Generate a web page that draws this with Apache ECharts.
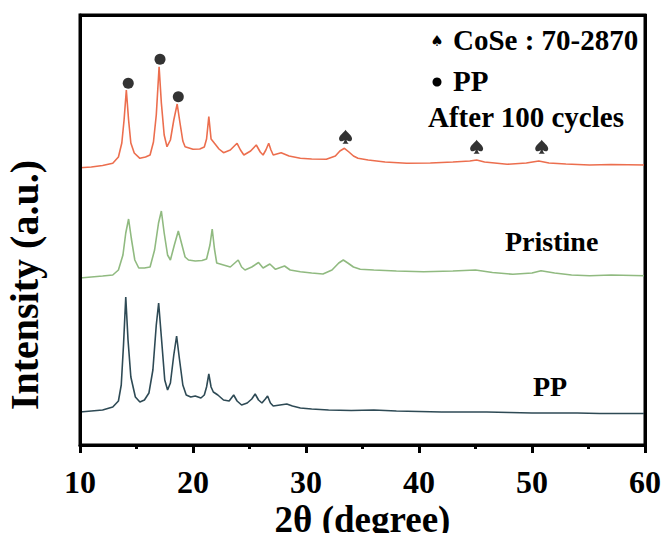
<!DOCTYPE html>
<html>
<head>
<meta charset="utf-8">
<script src="https://cdn.jsdelivr.net/npm/echarts@6/dist/echarts.min.js"></script>
<style>
html,body{margin:0;padding:0;background:#fff;}
#wrap{position:relative;width:665px;height:533px;}
#main{width:665px;height:533px;}
#frame{position:absolute;box-sizing:border-box;border:3px solid #000;pointer-events:none;}
</style>
</head>
<body>
<div id="wrap">
<div id="main"></div>
<div id="frame"></div>
</div>
<script>
// XRD 图谱：三条曲线上下错开，纵坐标为相对强度（含偏移）
var FONT = "'Times New Roman','Liberation Serif',serif";

var xTicks = [10, 20, 30, 40, 50, 60];

// After 100 cycles
var afterData = [
    [10,277.3],[11,278],[12,279.5],[12.9,281.7],[13.4,288],[13.7,302],[13.9,325],[14.1,355],[14.3,325],[14.5,302],[14.8,292],
    [15.3,286.7],[15.8,288],[16.2,290],[16.5,303],[16.75,330],[17.0,378.3],[17.2,342],[17.45,310],[17.7,298.3],
    [18.0,305],[18.3,325],[18.6,341],[18.85,322],[19.1,304],[19.3,298.3],[20.0,295.7],[20.6,296],[21.0,298],
    [21.2,306],[21.4,328.3],[21.6,306],[21.9,301.7],[22.3,296],[22.7,292.3],[23.3,295],[23.9,301.7],[24.2,295],
    [24.5,290],[25.1,294],[25.6,300],[25.95,293],[26.2,290],[26.45,295],[26.7,301.7],[26.9,295],[27.1,290],
    [27.8,292.3],[28.5,289],[29.5,286.7],[30.5,286],[31.8,285.7],[32.6,289],[33.0,294],[33.4,296.7],[33.8,293],
    [34.2,289],[34.6,286.7],[35.5,285],[37,283],[38.9,281.7],[41,282],[43,283],[44.5,284],[45.1,285],[45.8,283],
    [47.8,280.7],[49.5,282],[50.6,284],[51.5,282],[53,281],[55.1,280],[57,280.5],[60,280]
];
// Pristine
var pristineData = [
    [10,167],[11,168],[12,169],[12.9,170],[13.4,175],[13.8,190],[14.05,212],[14.3,226],[14.55,206],[14.85,185],
    [15.2,177],[15.7,177],[16.2,178],[16.6,195],[16.95,222],[17.2,234],[17.45,212],[17.75,190],[18.0,185],
    [18.35,200],[18.7,214],[19.0,201],[19.3,188],[19.6,185],[20.2,184],[20.8,184.5],[21.2,186],[21.5,200],
    [21.7,216],[21.9,196],[22.1,182],[22.7,180],[23.3,178],[24.0,185],[24.3,178],[24.6,175],[25.2,178],
    [25.8,182.5],[26.2,177],[26.5,179],[26.8,181],[27.3,175.7],[28.1,179],[28.6,175],[29.5,173.3],[30.5,172],
    [31.5,171],[32.3,175],[32.9,182],[33.3,185],[33.7,182],[34.2,178],[34.8,175.7],[36,175],[38,174],
    [40.4,173.3],[43,174],[45,175],[46.5,172.5],[48.3,170.7],[50,172],[50.8,174.3],[52,172],[53.5,170],
    [55.1,169.3],[57,170],[60,169.3]
];
// PP
var ppData = [
    [10,33],[11,34],[12,35],[12.9,38],[13.4,44],[13.65,60],[13.85,100],[14.05,148],[14.25,105],[14.5,68],[14.9,48],
    [15.3,43],[15.7,45],[16.1,52],[16.45,75],[16.75,120],[16.96,142],[17.2,108],[17.5,65],[17.75,55],[18.0,62],
    [18.3,90],[18.55,109],[18.8,86],[19.1,60],[19.4,50],[19.8,48],[20.2,49],[20.7,47],[21.0,50],[21.2,58],
    [21.4,71],[21.6,58],[21.8,53],[22.2,50],[22.7,45],[23.2,44],[23.6,50],[23.9,44],[24.3,40],[24.8,42],
    [25.2,46],[25.5,51],[25.8,45],[26.1,42],[26.4,46],[26.6,49],[26.85,42],[27.1,39],[27.7,40],[28.3,41],
    [28.8,39],[29.5,37],[30.5,36],[32,35],[34,34.5],[36,35],[38,34],[40,33.5],[42,33],[44,33],[46,33],
    [48,32.5],[50,32],[52,32],[54,32],[56,31.5],[58,31.5],[60,31.5]
];

// 峰位标记
var ppMarks = [[14.27,361.7],[17.08,385.7],[18.7,348.3]];
var coseMarks = [[33.5,308.3],[45.1,298.3],[50.86,298.3]];

var SPADE = 'path://M50,0 C40,18 0,40 0,64 C0,82 22,90 42,74 C40,86 34,94 26,100 L74,100 C66,94 60,86 58,74 C78,90 100,82 100,64 C100,40 60,18 50,0 Z';

var X_MIN = 10, X_MAX = 60, Y_MIN = 0, Y_MAX = 430;

var option = {
    animation: false,
    grid: {left: 80, right: 20, top: 15, bottom: 88, outerBoundsMode: 'none',
        show: true, borderColor: '#000', borderWidth: 3},
    xAxis: {
        type: 'value', min: X_MIN, max: X_MAX, interval: 10,
        axisLine: {show: true, lineStyle: {color: '#000', width: 3}},
        axisTick: {show: true, inside: false, length: 8, lineStyle: {color: '#000', width: 3}},
        minorTick: {show: true, splitNumber: 2, length: 4, lineStyle: {color: '#000', width: 3}},
        splitLine: {show: false},
        axisLabel: {
            color: '#000', fontFamily: FONT, fontWeight: 'bold', fontSize: 32, margin: 21,
            formatter: function (v) { return xTicks.indexOf(v) >= 0 ? String(v) : ''; }
        },
        name: '2θ (degree)', nameLocation: 'middle', nameGap: 56, nameMoveOverlap: false,
        nameTextStyle: {color: '#000', fontFamily: FONT, fontWeight: 'bold', fontSize: 37}
    },
    yAxis: {
        type: 'value', min: Y_MIN, max: Y_MAX,
        axisLine: {show: true, onZero: false, lineStyle: {color: '#000', width: 3}},
        axisTick: {show: false}, axisLabel: {show: false}, splitLine: {show: false}
    },
    series: [
        {name: 'After 100 cycles', type: 'line', data: afterData, symbol: 'none',
            lineStyle: {color: '#ec6e4e', width: 1.6}},
        {name: 'Pristine', type: 'line', data: pristineData, symbol: 'none',
            lineStyle: {color: '#90ba80', width: 1.6}},
        {name: 'PP', type: 'line', data: ppData, symbol: 'none',
            lineStyle: {color: '#2e4a55', width: 1.6}},
        {type: 'scatter', data: ppMarks, symbol: 'circle', symbolSize: 11, itemStyle: {color: '#000'}},
        {type: 'scatter', data: coseMarks, symbol: SPADE, symbolSize: [13, 14], itemStyle: {color: '#000'}}
    ],
    graphic: [
        {type: 'text', x: 24, y: 285, rotation: Math.PI / 2,
            style: {text: 'Intensity (a.u.)', fill: '#000', font: 'bold 40px ' + FONT, textAlign: 'center', textVerticalAlign: 'middle'}},
        {type: 'text', x: 437, y: 41, style: {text: '♠', fill: '#000', font: '15px "DejaVu Sans"', textAlign: 'center', textVerticalAlign: 'middle'}},
        {type: 'text', x: 453, y: 40, style: {text: 'CoSe : 70-2870', fill: '#000', font: 'bold 29px ' + FONT, textVerticalAlign: 'middle'}},
        {type: 'circle', shape: {cx: 437, cy: 82, r: 4.5}, style: {fill: '#000'}},
        {type: 'text', x: 453, y: 81, style: {text: 'PP', fill: '#000', font: 'bold 29px ' + FONT, textVerticalAlign: 'middle'}},
        {type: 'text', x: 428, y: 117, style: {text: 'After 100 cycles', fill: '#000', font: 'bold 29px ' + FONT, textVerticalAlign: 'middle'}},
        {type: 'text', x: 505, y: 241, style: {text: 'Pristine', fill: '#000', font: 'bold 28px ' + FONT, textVerticalAlign: 'middle'}},
        {type: 'text', x: 533, y: 386, style: {text: 'PP', fill: '#000', font: 'bold 28px ' + FONT, textVerticalAlign: 'middle'}}
    ]
};

var myChart = echarts.init(document.getElementById('main'), null, {renderer: 'svg'});
myChart.setOption(option);

// 外框：按坐标轴换算出绘图区四角，再叠一个边框
var p0 = myChart.convertToPixel({gridIndex: 0}, [X_MIN, Y_MAX]);
var p1 = myChart.convertToPixel({gridIndex: 0}, [X_MAX, Y_MIN]);
var fr = document.getElementById('frame');
fr.style.left = (p0[0] - 1.5) + 'px';
fr.style.top = (p0[1] - 1.5) + 'px';
fr.style.width = (p1[0] - p0[0] + 3) + 'px';
fr.style.height = (p1[1] - p0[1] + 3) + 'px';
</script>
</body>
</html>
